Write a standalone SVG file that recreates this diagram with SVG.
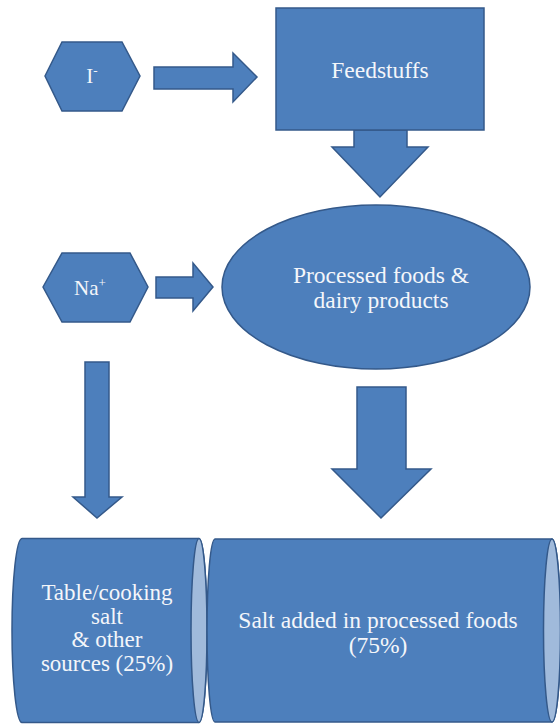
<svg xmlns="http://www.w3.org/2000/svg" width="560" height="726" viewBox="0 0 560 726">
  <style>
    .shape { fill: #4D7FBC; stroke: #34598A; stroke-width: 1.5; }
    .cap { fill: #A0BADB; stroke: #34598A; stroke-width: 1.5; }
    .label { font-family: 'Liberation Serif', 'Times New Roman', serif; font-size: 23.5px; fill: #F4F6FA; text-anchor: middle; }
    .ion { font-size: 21px; }
    .sup { font-size: 13px; }
    .small { font-size: 23px; }
  </style>
  <rect width="560" height="726" fill="#FFFFFF"/>

  <!-- block arrows -->
  <g id="connectors">
    <polygon class="shape" points="154,67 233,67 233,53 257,77 233,102 233,89 154,89"/>
    <polygon class="shape" points="354,130 407,130 407,147 428,147 380,197 332,147 354,147"/>
    <polygon class="shape" points="156,277 193,277 193,263 213,287 193,311 193,298 156,298"/>
    <polygon class="shape" points="85,362 109,362 109,497 122,497 97,518 73,497 85,497"/>
    <polygon class="shape" points="357,387 406,387 406,469 431,469 381,518 332,469 357,469"/>
  </g>

  <g id="iodide">
    <polygon class="shape" points="45,76 62,42 122,42 140,76 122,111 62,111"/>
    <text class="label ion" x="92" y="83">I<tspan class="sup" dy="-8">-</tspan></text>
  </g>

  <g id="feedstuffs">
    <rect class="shape" x="276" y="8" width="208" height="122"/>
    <text class="label" x="380" y="78">Feedstuffs</text>
  </g>

  <g id="sodium">
    <polygon class="shape" points="43,287 62,253 130,253 148,287 130,322 62,322"/>
    <text class="label ion" x="90" y="295">Na<tspan class="sup" dy="-8">+</tspan></text>
  </g>

  <g id="processed-foods">
    <ellipse class="shape" cx="376" cy="287" rx="154" ry="82"/>
    <text class="label" x="381" y="283">Processed foods &amp;</text>
    <text class="label" x="381" y="308">dairy products</text>
  </g>

  <!-- horizontal cans: body with rounded left end, lighter end cap on the right -->
  <g id="table-salt">
    <path class="shape" d="M22,538.5 L199,538.5 A8,92 0 0 1 199,722.5 L22,722.5 A10,92 0 0 1 22,538.5 Z"/>
    <ellipse class="cap" cx="199" cy="630.5" rx="8" ry="92"/>
    <text class="label small" x="107" y="600">Table/cooking</text>
    <text class="label small" x="107" y="623.5">salt</text>
    <text class="label small" x="107" y="647">&amp; other</text>
    <text class="label small" x="107" y="670.5">sources (25%)</text>
  </g>

  <g id="processed-salt">
    <path class="shape" d="M215,539 L552,539 A8.5,91.5 0 0 1 552,722 L215,722 A8,91.5 0 0 1 215,539 Z"/>
    <ellipse class="cap" cx="552" cy="630.5" rx="8.5" ry="91.5"/>
    <text class="label" x="378" y="628">Salt added in processed foods</text>
    <text class="label" x="378" y="653">(75%)</text>
  </g>
</svg>
